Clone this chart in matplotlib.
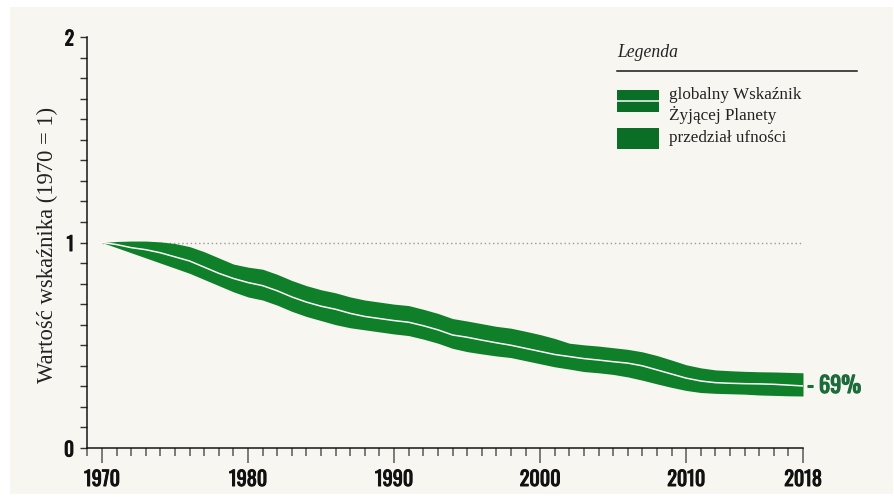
import matplotlib
matplotlib.use("Agg")
import matplotlib.pyplot as plt
from matplotlib.patches import Rectangle
from matplotlib.ticker import MultipleLocator, FixedLocator
import matplotlib.patheffects as pe

years = list(range(1970, 2019))
index_center = [1.00, 0.99, 0.975, 0.965, 0.95, 0.93, 0.91, 0.88, 0.85, 0.825,
                0.805, 0.79, 0.765, 0.735, 0.71, 0.69, 0.675, 0.655, 0.64, 0.63,
                0.62, 0.612, 0.595, 0.575, 0.55, 0.539, 0.525, 0.512, 0.50, 0.485,
                0.47, 0.455, 0.445, 0.435, 0.428, 0.42, 0.413, 0.40, 0.38, 0.36,
                0.34, 0.326, 0.318, 0.315, 0.313, 0.312, 0.31, 0.306, 0.302]
index_upper = [1.00, 1.005, 1.007, 1.007, 1.003, 0.995, 0.98, 0.955, 0.925, 0.895,
               0.88, 0.87, 0.845, 0.815, 0.79, 0.77, 0.755, 0.735, 0.72, 0.71,
               0.70, 0.693, 0.675, 0.655, 0.63, 0.618, 0.605, 0.592, 0.583, 0.568,
               0.552, 0.533, 0.51, 0.502, 0.496, 0.488, 0.48, 0.468, 0.45, 0.428,
               0.405, 0.39, 0.38, 0.376, 0.373, 0.371, 0.37, 0.368, 0.366]
index_lower = [1.00, 0.975, 0.95, 0.925, 0.90, 0.875, 0.85, 0.82, 0.79, 0.76,
               0.735, 0.72, 0.695, 0.665, 0.64, 0.62, 0.60, 0.585, 0.575, 0.565,
               0.555, 0.547, 0.53, 0.51, 0.485, 0.469, 0.458, 0.448, 0.44, 0.425,
               0.41, 0.395, 0.384, 0.372, 0.366, 0.358, 0.346, 0.33, 0.312, 0.295,
               0.28, 0.27, 0.266, 0.264, 0.262, 0.258, 0.256, 0.254, 0.253]
x_major_ticks = [1970, 1980, 1990, 2000, 2010, 2018]
y_major_ticks = [0, 1, 2]
change_label = "- 69%"
y_label = "Wartość wskaźnika (1970 = 1)"
legend_title = "Legenda"
legend_items = ["globalny Wskaźnik\nŻyjącej Planety", "przedział ufności"]

W, H = 895, 501
PT = 72.0 / 100.0  # points per pixel at dpi 100
BG = "#f7f6f0"
GREEN = "#107f2a"
GREEN_LEG = "#0b6e27"
TXT_GREEN = "#1c6b3a"
COND = ["Oswald", "Fira Sans Extra Condensed", "Barlow Condensed",
        "IBM Plex Sans Condensed", "DejaVu Sans"]
SERIF = ["Liberation Serif", "DejaVu Serif"]


def bold(color, w=0.7):
    return [pe.withStroke(linewidth=w, foreground=color)]


fig = plt.figure(figsize=(W / 100, H / 100), dpi=100, facecolor="white")

# overlay in pixel coordinates (background panel + legend)
ov = fig.add_axes([0, 0, 1, 1], zorder=-1)
ov.set_xlim(0, W)
ov.set_ylim(H, 0)
ov.axis("off")
ov.add_patch(Rectangle((10, 7), 883, 487, facecolor=BG, edgecolor="none"))

# main axes
x0, x1 = 87, 803
ytop, ybot = 37, 448
ax = fig.add_axes([x0 / W, (H - ybot) / H, (x1 - x0) / W, (ybot - ytop) / H])
ax.patch.set_alpha(0)
px_per_year = (803 - 102) / 48.0
ax.set_xlim(1970 - (102 - 87) / px_per_year, 2018)
ax.set_ylim(0, 2)

for s in ["top", "right"]:
    ax.spines[s].set_visible(False)
for s in ["left", "bottom"]:
    ax.spines[s].set_color("#111111")
    ax.spines[s].set_linewidth(1.5 * PT)

ax.fill_between(years, index_lower, index_upper, color=GREEN, linewidth=0, zorder=2)
ax.plot(years, index_center, color="white", lw=1.5 * PT, zorder=3)
ax.plot([years[0], years[-1]], [1, 1], color="#9a9a9a", lw=1.4 * PT, ls=(0, (1, 2)), zorder=1)

ax.yaxis.set_major_locator(FixedLocator(y_major_ticks))
ax.yaxis.set_minor_locator(MultipleLocator(0.1))
ax.tick_params(axis="y", which="both", direction="out", length=7 * PT, width=1.4 * PT,
               color="#333333")
ax.tick_params(axis="y", which="major", pad=6 * PT)
ax.set_yticklabels([str(v) for v in y_major_ticks], fontfamily=COND, fontweight="bold",
                   fontsize=14, color="#111111")
for t in ax.get_yticklabels():
    t.set_path_effects(bold("#111111"))

ax.xaxis.set_major_locator(FixedLocator(x_major_ticks))
ax.xaxis.set_minor_locator(MultipleLocator(1))
ax.tick_params(axis="x", which="minor", direction="out", length=8 * PT, width=1.5 * PT,
               color="#555555")
ax.tick_params(axis="x", which="major", direction="out", length=15 * PT, width=1.5 * PT,
               color="#555555", pad=6 * PT)
ax.set_xticklabels([str(v) for v in x_major_ticks], fontfamily=COND, fontweight="bold",
                   fontsize=14.5, color="#111111")
for t in ax.get_xticklabels():
    t.set_path_effects(bold("#111111"))

ax.set_ylabel(y_label, fontfamily=SERIF, fontsize=16.3, color="#222222")
ax.yaxis.set_label_coords(-0.040, 0.495)

ax.annotate(change_label, xy=(years[-1], index_center[-1]), xytext=(3, 0),
            textcoords="offset points", ha="left", va="center",
            fontfamily=COND, fontweight="bold", fontsize=16, color=TXT_GREEN,
            annotation_clip=False, path_effects=bold(TXT_GREEN, 0.9))

# legend (pixel coords)
ov.text(617, 52, legend_title, fontfamily=SERIF, style="italic", fontsize=12.7,
        color="#222222", va="center", ha="left")
ov.plot([617, 857], [71, 71], color="#111111", lw=1.5 * PT)
ov.add_patch(Rectangle((617, 90), 42, 22, facecolor=GREEN_LEG, edgecolor="none"))
ov.plot([617, 659], [101, 101], color="white", lw=1.5 * PT)
ov.add_patch(Rectangle((617, 128), 42, 21, facecolor=GREEN_LEG, edgecolor="none"))
ov.text(669, 105.5, legend_items[0], fontfamily=SERIF, fontsize=12.3, color="#222222",
        va="center", ha="left", linespacing=1.17)
ov.text(669, 138, legend_items[1], fontfamily=SERIF, fontsize=12.3, color="#222222",
        va="center", ha="left")

fig.savefig("out.png", dpi=100, facecolor="white")
